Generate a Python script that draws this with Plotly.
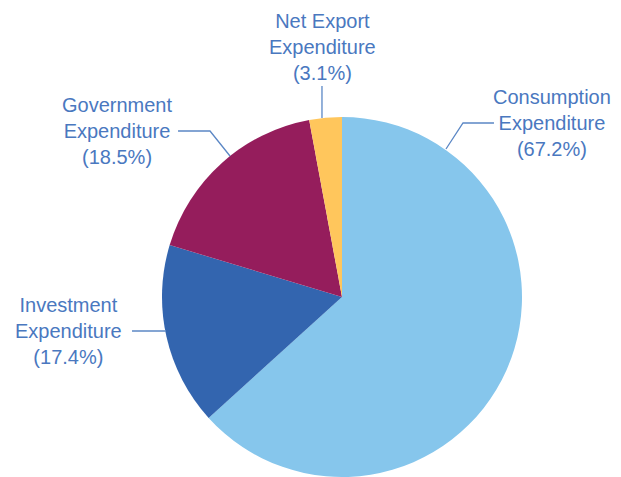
import plotly.graph_objects as go

# Components of GDP (share as labelled in the chart)
labels = ["Consumption Expenditure", "Investment Expenditure",
          "Government Expenditure", "Net Export Expenditure"]
values = [67.2, 17.4, 18.5, 3.1]
colors = ["#86C6EC", "#3365AF", "#951D5C", "#FFC65C"]

W, H = 621, 477
OFF = 8  # page body margin: figure origin sits 8px in from the window corner
TEXT = "#4A78BF"
LINE = "#5B87C5"


def px(x, y):
    # window pixel position -> paper coordinates
    return (x - OFF) / W, 1 - (y - OFF) / H


x0, y_top = px(162, 117)
x1, y_bot = px(522, 477)

fig = go.Figure(go.Pie(
    labels=labels, values=values, sort=False, direction="clockwise",
    rotation=0, marker=dict(colors=colors, line=dict(width=0)),
    textinfo="none", hoverinfo="label+value", showlegend=False,
    domain=dict(x=[x0, x1], y=[y_bot, y_top]),
))

# label text: (pixel x, pixel y of the middle line, label, value)
label_pos = [(552, 123, "Consumption<br>Expenditure", values[0]),
             (68, 331, "Investment<br>Expenditure", values[1]),
             (117, 131, "Government<br>Expenditure", values[2]),
             (322, 47, "Net Export<br>Expenditure", values[3])]
for x, y, name, v in label_pos:
    ax, ay = px(x, y)
    fig.add_annotation(x=ax, y=ay, xref="paper", yref="paper",
                       text=f"{name}<br>({v}%)", showarrow=False,
                       xanchor="center", yanchor="middle", align="center",
                       font=dict(family="Liberation Sans, Arial", size=20, color=TEXT))

# leader lines (pixel polylines)
leaders = [[(494, 123), (463, 123), (446, 149)],
           [(132, 331), (166, 331)],
           [(178, 131), (210, 131), (230, 156)],
           [(322, 86), (322, 118)]]
for pts in leaders:
    p = [px(*q) for q in pts]
    path = "M " + " L ".join(f"{a:.4f},{b:.4f}" for a, b in p)
    fig.add_shape(type="path", path=path, xref="paper", yref="paper",
                  line=dict(color=LINE, width=1.3))

fig.update_layout(width=W, height=H, margin=dict(l=0, r=0, t=0, b=0),
                  paper_bgcolor="white", plot_bgcolor="white")

fig.write_html("out.html")
